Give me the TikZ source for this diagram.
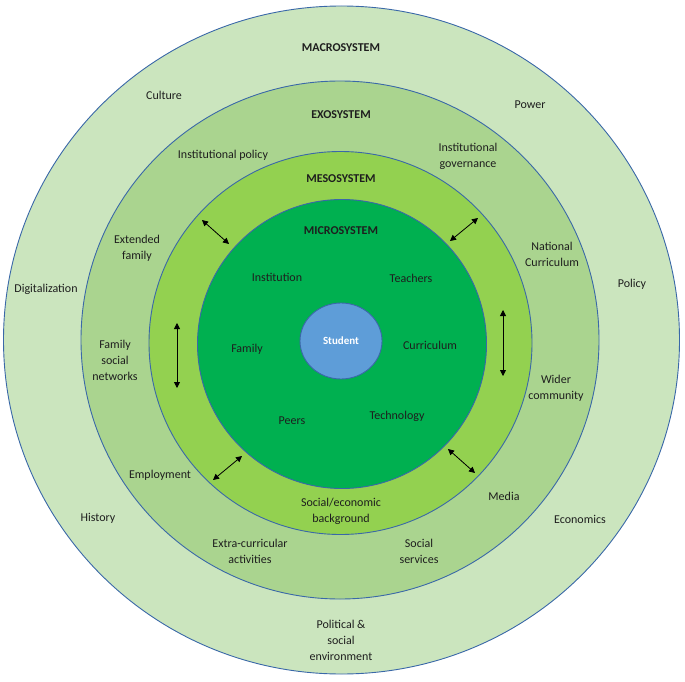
\documentclass[tikz,border=0pt]{standalone}
\usepackage{fontspec}
\setmainfont{Carlito}
\usetikzlibrary{shapes.geometric,arrows.meta}
\definecolor{macrofill}{HTML}{CBE5BE}
\definecolor{exofill}{HTML}{AAD48F}
\definecolor{mesofill}{HTML}{93D150}
\definecolor{microfill}{HTML}{00B050}
\definecolor{studfill}{HTML}{5E9DD8}
\definecolor{ringline}{HTML}{3A68A8}
\definecolor{txt}{HTML}{1E1E1E}
\tikzset{
  ring/.style={draw=ringline, line width=0.9pt},
  lab/.style={font=\fontsize{12}{16}\selectfont, align=center, text=txt, inner sep=0pt},
  head/.style={font=\fontsize{12}{14}\selectfont\bfseries, text=txt, inner sep=0pt},
  link/.style={draw=black, line width=0.8pt, {Triangle[length=6pt,width=6pt]}-{Triangle[length=6pt,width=6pt]}}
}
\begin{document}
\begin{tikzpicture}[x=1pt,y=-1pt]
\useasboundingbox (0,0) rectangle (685,682);
% rings
\draw[ring, fill=macrofill] (341.5,340) ellipse [x radius=338pt, y radius=334pt];
\draw[ring, fill=exofill] (340,340) circle [radius=259pt];
\draw[ring, fill=mesofill] (340.5,343) circle [radius=191.5pt];
\draw[ring, fill=microfill] (342,344) circle [radius=144.5pt];
\node[ellipse, draw=ringline, line width=0.9pt, fill=studfill, minimum width=82pt, minimum height=76pt, inner sep=0pt, text=white, font=\fontsize{11}{13}\selectfont\bfseries] (student) at (341,341) {Student};
% headings
\node[head] (macro) at (341,48) {MACROSYSTEM};
\node[head] (exo) at (341,115) {EXOSYSTEM};
\node[head] (meso) at (341,179) {MESOSYSTEM};
\node[head] (micro) at (341,231) {MICROSYSTEM};
% macrosystem
\node[lab] (culture) at (164,95) {Culture};
\node[lab] (power) at (530,105) {Power};
\node[lab] (digit) at (46,289) {Digitalization};
\node[lab] (policy) at (632,284) {Policy};
\node[lab] (history) at (98,518) {History};
\node[lab] (econ) at (580,519) {Economics};
\node[lab] (polsoc) at (341,640) {Political \&\\social\\environment};
% exosystem
\node[lab] (instpol) at (223,155) {Institutional policy};
\node[lab] (instgov) at (468,156) {Institutional\\governance};
\node[lab] (extfam) at (137,248) {Extended\\family};
\node[lab] (natcur) at (552,254) {National\\Curriculum};
\node[lab] (famsoc) at (115,360) {Family\\social\\networks};
\node[lab] (wider) at (556,388) {Wider\\community};
\node[lab] (employ) at (160,475) {Employment};
\node[lab] (media) at (504,496) {Media};
\node[lab] (extra) at (250,551) {Extra-curricular\\activities};
\node[lab] (socserv) at (419,551) {Social\\services};
% mesosystem
\node[lab] (socecon) at (341,511) {Social/economic\\background};
% microsystem
\node[lab] (inst) at (277,277) {Institution};
\node[lab] (teach) at (411,278) {Teachers};
\node[lab] (family) at (247,349) {Family};
\node[lab] (curr) at (430,345) {Curriculum};
\node[lab] (peers) at (292,421) {Peers};
\node[lab] (tech) at (397,416) {Technology};
% arrows
\coordinate (ula) at (202,220); \coordinate (ulb) at (229,244);
\coordinate (ura) at (450,241); \coordinate (urb) at (478,218);
\coordinate (lva) at (177,323); \coordinate (lvb) at (177,388);
\coordinate (rva) at (503,310); \coordinate (rvb) at (503,376);
\coordinate (lla) at (213,480); \coordinate (llb) at (242,456);
\coordinate (lra) at (448,449); \coordinate (lrb) at (475,473);
\draw[link] (ula) -- (ulb);
\draw[link] (ura) -- (urb);
\draw[link] (lva) -- (lvb);
\draw[link] (rva) -- (rvb);
\draw[link] (lla) -- (llb);
\draw[link] (lra) -- (lrb);
\end{tikzpicture}
\end{document}
